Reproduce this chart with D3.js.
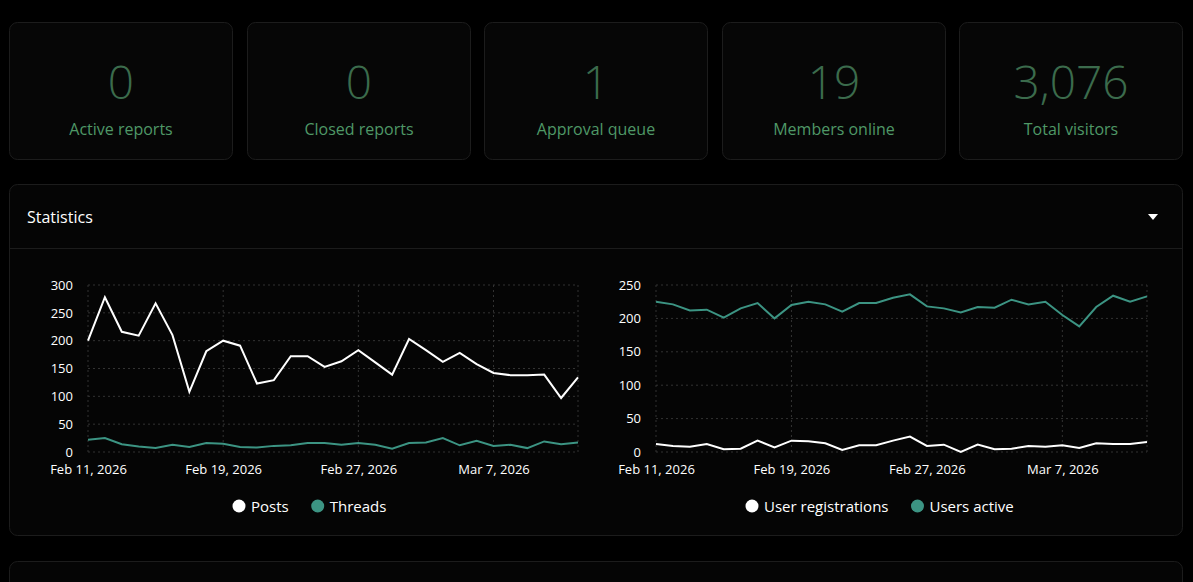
<!DOCTYPE html>
<html><head><meta charset="utf-8">
<script src="https://cdn.jsdelivr.net/npm/d3@7"></script>
<style>
body{margin:0;background:#000;font-family:"Open Sans","Noto Sans",sans-serif;overflow:hidden}
</style></head><body>
<script>
const statLabels = ['Active reports','Closed reports','Approval queue','Members online','Total visitors'];
const statValues = ['0','0','1','19','3,076'];
const startDate = new Date(2026, 1, 11);
const posts = [200,278,216,209,267,210,108,181,200,191,123,129,172,172,153,163,183,161,139,203,183,162,178,158,142,138,138,139,97,134];
const threads = [22,25,14,10,7,13,9,16,15,9,8,11,12,16,16,13,16,13,6,16,17,25,12,20,11,13,7,19,14,17];
const registrations = [12,9,8,12,4,5,17,7,17,16,13,3,10,10,17,23,9,11,0,11,4,5,9,8,10,6,13,12,12,15];
const usersActive = [225,221,212,213,201,215,223,200,220,225,221,210,223,223,231,236,218,215,209,217,216,228,221,225,205,188,217,234,225,233];
const tickDates = [new Date(2026,1,11), new Date(2026,1,19), new Date(2026,1,27), new Date(2026,2,7)];

const W = 1193, H = 582;
const svg = d3.select('body').append('svg').attr('width', W).attr('height', H);
const green = '#3c9483', white = '#ffffff';

// stat cards
const cardX = [9, 247, 484, 722, 959];
cardX.forEach((x, i) => {
  svg.append('rect').attr('x', x + 0.5).attr('y', 22.5).attr('width', 223).attr('height', 137)
    .attr('rx', 8).attr('fill', '#060606').attr('stroke', '#1c1c1c');
  svg.append('text').attr('x', x + 112).attr('y', 99).attr('text-anchor', 'middle')
    .attr('font-size', 46).attr('fill', '#3b6b4c').attr('font-weight', 300).text(statValues[i]);
  svg.append('text').attr('x', x + 112).attr('y', 135).attr('text-anchor', 'middle')
    .attr('font-size', 16).attr('fill', '#4f9866').text(statLabels[i]);
});

// statistics panel
svg.append('rect').attr('x', 9.5).attr('y', 184.5).attr('width', 1173).attr('height', 351)
  .attr('rx', 8).attr('fill', '#050505').attr('stroke', '#1c1c1c');
svg.append('line').attr('x1', 10).attr('x2', 1182).attr('y1', 248.5).attr('y2', 248.5).attr('stroke', '#1c1c1c');
svg.append('text').attr('x', 27).attr('y', 223).attr('font-size', 16).attr('fill', '#fff').text('Statistics');
svg.append('path').attr('d', 'M1148,214 L1158,214 L1153,220 Z').attr('fill', '#fff');
svg.append('rect').attr('x', 9.5).attr('y', 561.5).attr('width', 1173).attr('height', 60)
  .attr('rx', 8).attr('fill', '#050505').attr('stroke', '#1c1c1c');

const dates = posts.map((_, i) => d3.timeDay.offset(startDate, i));

function chart(x0, x1, yMax, yTicks, series, legendX) {
  const x = d3.scaleTime().domain([dates[0], dates[dates.length - 1]]).range([x0, x1]);
  const y = d3.scaleLinear().domain([0, yMax]).range([452, 285]);
  const g = svg.append('g');
  // grid
  g.selectAll('.hg').data(yTicks).join('line').attr('x1', x0).attr('x2', x1)
    .attr('y1', d => y(d)).attr('y2', d => y(d))
    .attr('stroke', '#333').attr('stroke-dasharray', '2,3');
  g.selectAll('.vg').data(tickDates).join('line').attr('x1', d => x(d)).attr('x2', d => x(d))
    .attr('y1', y(yMax)).attr('y2', 452).attr('stroke', '#333').attr('stroke-dasharray', '2,3');
  g.append('line').attr('x1', x1).attr('x2', x1).attr('y1', y(yMax)).attr('y2', 452)
    .attr('stroke', '#333').attr('stroke-dasharray', '2,3');
  // axes
  const ya = g.append('g').attr('transform', `translate(${x0 - 12},0)`)
    .call(d3.axisLeft(y).tickValues(yTicks).tickSize(0));
  ya.select('.domain').remove();
  ya.selectAll('text').attr('fill', '#fff').attr('font-size', 13).attr('font-family', 'Open Sans');
  const xa = g.append('g').attr('transform', 'translate(0,462)')
    .call(d3.axisBottom(x).tickValues(tickDates).tickSize(0).tickFormat(d3.timeFormat('%b %-d, %Y')));
  xa.select('.domain').remove();
  xa.selectAll('text').attr('fill', '#fff').attr('font-size', 13).attr('font-family', 'Open Sans');
  series.forEach(s => {
    g.append('path').datum(s.values).attr('fill', 'none').attr('stroke', s.color).attr('stroke-width', 2)
      .attr('d', d3.line().x((d, i) => x(dates[i])).y(d => y(d)));
  });
  // legend
  let lx = legendX;
  series.forEach(s => {
    svg.append('circle').attr('cx', lx).attr('cy', 506).attr('r', 6.5).attr('fill', s.color);
    const t = svg.append('text').attr('x', lx + 12).attr('y', 512).attr('font-size', 15)
      .attr('fill', '#fff').text(s.name);
    lx += t.node().getComputedTextLength() + 41;
  });
}

chart(88, 578, 300, [0,50,100,150,200,250,300],
  [{name:'Posts', values:posts, color:white}, {name:'Threads', values:threads, color:green}], 239);
chart(656, 1147, 250, [0,50,100,150,200,250],
  [{name:'User registrations', values:registrations, color:white}, {name:'Users active', values:usersActive, color:green}], 752);
</script>
</body></html>
